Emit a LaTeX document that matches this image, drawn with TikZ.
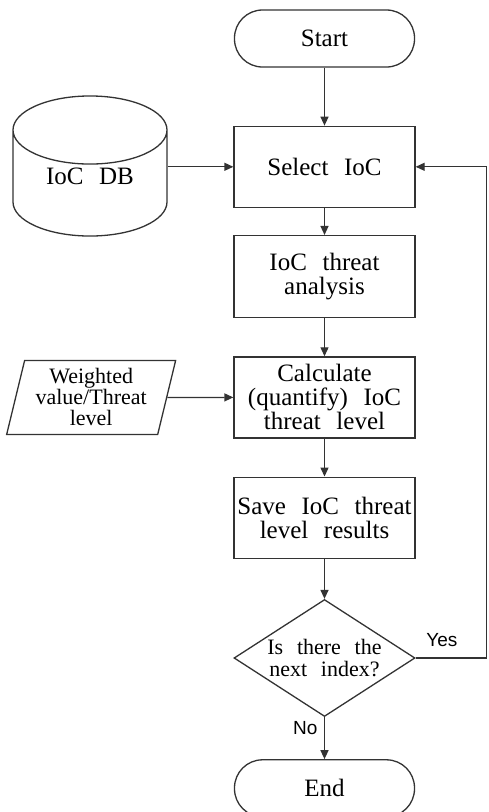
\documentclass[tikz,border=0pt]{standalone}
\usepackage{fontspec}
\setmainfont{Liberation Serif}[WordSpace=2.5]
\newfontfamily\labelfont{Liberation Sans}
\usetikzlibrary{positioning,arrows.meta,shapes.geometric}

\begin{document}
\begin{tikzpicture}[
  x=1pt,y=-1pt,
  color=black!80,text=black,line width=1.3pt,
  font=\fontsize{25}{24}\selectfont,
  proc/.style={draw,minimum width=181pt,minimum height=81pt,align=center,inner sep=2pt},
  term/.style={draw,rounded corners=28pt,minimum width=180pt,minimum height=57pt},
  dec/.style={draw,diamond,aspect=1.55,inner sep=0pt,minimum width=181pt,minimum height=117pt,align=center,font=\fontsize{22}{22}\selectfont},
  db/.style={draw,cylinder,shape border rotate=90,aspect=0.72,minimum width=154pt,minimum height=96pt,text depth=24pt},
  io/.style={draw,trapezium,trapezium left angle=75.6,trapezium right angle=104.4,trapezium stretches=true,minimum width=169pt,minimum height=74pt,align=center,inner sep=1pt,font=\fontsize{22}{21}\selectfont},
  lbl/.style={font=\labelfont\fontsize{19}{19}\selectfont},
  >={Triangle[length=9pt,width=8pt]}
]
\useasboundingbox (0,0) rectangle (488,812);

\node[term] (start) at (324.5,38.5) {Start};
\node[proc,below=58pt of start] (select) {Select IoC};
\node[proc,below=27pt of select,minimum height=82pt] (analysis) {IoC threat\\analysis};
\node[proc,below=38pt of analysis] (calc) {Calculate\\(quantify) IoC\\threat level};
\node[proc,below=38pt of calc] (save) {Save IoC threat\\level results};
\node[dec,below=40pt of save] (check) {Is there the\\next index?};
\node[term,below=42pt of check] (finish) {End};

\node[db,anchor=shape center] (iocdb) at (90,166) {IoC DB};
\node[io,left=66pt of calc] (weights) {Weighted\\value/Threat\\level};
\coordinate (rim) at (486.5,0);

\draw[->] (start) -- (select);
\draw[->] (select) -- (analysis);
\draw[->] (analysis) -- (calc);
\draw[->] (calc) -- (save);
\draw[->] (save) -- (check);
\draw[->] (check) -- node[lbl,left=3pt,pos=0.25]{No} (finish);
\draw[->] (iocdb.east |- select.west) -- (select.west);
\draw[->] (weights) -- (calc);
\draw[->] (check.east) -- node[lbl,above=7pt,pos=0.37]{Yes} (check.east -| rim) |- (select.east);
\end{tikzpicture}
\end{document}
